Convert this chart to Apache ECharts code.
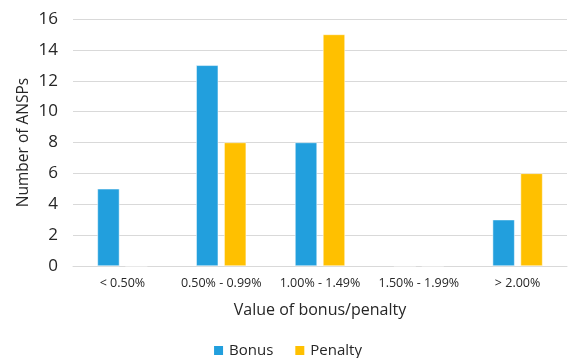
<!DOCTYPE html>
<html>
<head>
<meta charset="utf-8">
<script src="https://cdn.jsdelivr.net/npm/echarts@6/dist/echarts.min.js"></script>
<style>
  html, body { margin: 0; padding: 0; background: #fff; }
  #chart { width: 574px; height: 358px; }
</style>
</head>
<body>
<div id="chart"></div>
<script>
// data
const categories = ['< 0.50%', '0.50% - 0.99%', '1.00% - 1.49%', '1.50% - 1.99%', '> 2.00%']
const bonus = [5, 13, 8, 0, 3]
const penalty = [0, 8, 15, 0, 6]
const yTicks = { min: 0, max: 16, interval: 2 }

const font = 'Open Sans'
const textColor = '#262626'

const myChart = echarts.init(document.getElementById('chart'))
const option = {
  animation: false,
  textStyle: { fontFamily: font },
  grid: { left: 73, right: 7, top: 19, bottom: 92 },
  legend: {
    top: 338,
    left: 'center',
    itemWidth: 11,
    itemHeight: 11,
    itemGap: 20,
    icon: 'rect',
    textStyle: { fontSize: 15, color: textColor, fontFamily: font },
    data: ['Bonus', 'Penalty']
  },
  xAxis: {
    type: 'category',
    data: categories,
    name: 'Value of bonus/penalty',
    nameLocation: 'middle',
    nameGap: 36,
    nameTextStyle: { fontSize: 16, color: textColor },
    axisLine: { lineStyle: { color: '#d9d9d9' } },
    axisTick: { show: false },
    axisLabel: { color: textColor, fontSize: 12.5, margin: 11, interval: 0 }
  },
  yAxis: {
    type: 'value',
    min: yTicks.min,
    max: yTicks.max,
    interval: yTicks.interval,
    name: 'Number of ANSPs',
    nameLocation: 'middle',
    nameGap: 41,
    nameMoveOverlap: false,
    nameTextStyle: { fontSize: 15.5, color: textColor },
    axisLine: { show: false },
    axisTick: { show: false },
    axisLabel: { color: textColor, fontSize: 17, margin: 15 },
    splitLine: { lineStyle: { color: '#d9d9d9' } }
  },
  series: [
    {
      name: 'Bonus',
      type: 'bar',
      data: bonus,
      barWidth: 22,
      barGap: '27%',
      itemStyle: { color: '#229fdd', borderColor: '#ffffff', borderWidth: 0.5 }
    },
    {
      name: 'Penalty',
      type: 'bar',
      data: penalty,
      barWidth: 22,
      itemStyle: { color: '#ffc000', borderColor: '#ffffff', borderWidth: 0.5 }
    }
  ]
}
myChart.setOption(option)
window.addEventListener('resize', () => {
  myChart.resize()
})
</script>
</body>
</html>
